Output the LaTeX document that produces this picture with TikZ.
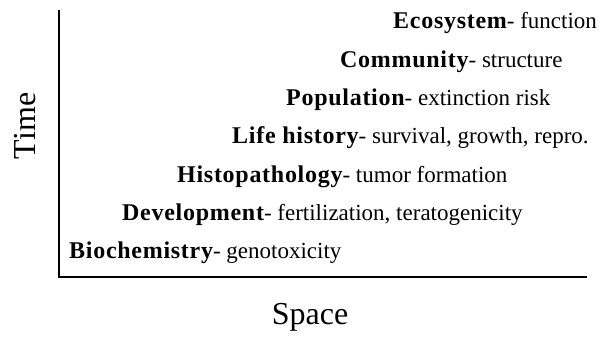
\documentclass[tikz,border=0pt]{standalone}
\usepackage{fontspec}
\setmainfont{Liberation Serif}
\newfontfamily\levelfont[LetterSpace=3.0]{Liberation Serif}
\newcommand{\lvl}[1]{{\levelfont\bfseries\fontsize{24}{27}\selectfont #1}}
\usetikzlibrary{positioning}

\begin{document}
\begin{tikzpicture}[
  x=1pt,y=1pt,
  level/.style={anchor=base west,inner sep=0pt,font=\fontsize{23}{27}\selectfont},
  axislabel/.style={anchor=base,inner sep=0pt,font=\fontsize{32}{36}\selectfont},
  axis/.style={line width=1.2pt}
]
  \useasboundingbox (0,0) rectangle (605,337);

  % axes
  \coordinate (top) at (59,327);
  \coordinate (origin) at (59,60);
  \coordinate (right) at (587,60);
  \draw[axis] (top) -- (origin) -- (right);

  % levels of organisation
  \node[level] (bio)   at (69,78)     {\lvl{Biochemistry}- genotoxicity};
  \node[level] (dev)   at (122,116.3) {\lvl{Development}- fertilization, teratogenicity};
  \node[level] (histo) at (177,154.7) {\lvl{Histopathology}- tumor formation};
  \node[level] (life)  at (232,193)   {\lvl{Life history}- survival, growth, repro.};
  \node[level] (pop)   at (286,231.3) {\lvl{Population}- extinction risk};
  \node[level] (comm)  at (340,269.7) {\lvl{Community}- structure};
  \node[level] (eco)   at (393,308)   {\lvl{Ecosystem}- function};

  % axis labels
  \node[axislabel,rotate=90] (time) at (35,211) {Time};
  \node[axislabel] (space) at (310,12) {Space};
\end{tikzpicture}
\end{document}
